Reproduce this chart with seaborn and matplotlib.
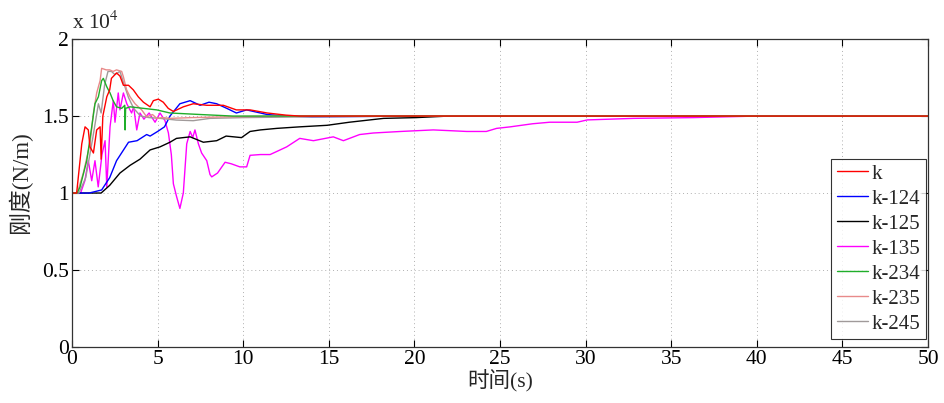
import matplotlib
matplotlib.use("Agg")
import matplotlib.pyplot as plt
import seaborn as sns
import pandas as pd
from matplotlib.lines import Line2D

# ---- data (stiffness in units of 1e4 N/m) ----
series_names = ["k", "k-124", "k-125", "k-135", "k-234", "k-235", "k-245"]

t_k = [0, 0.27, 0.57, 0.76, 0.95, 1.05, 1.25, 1.44, 1.64, 1.7, 1.8, 2.03, 2.2, 2.3, 2.6, 2.8, 3.0, 3.3,
       3.58, 3.87, 4.17, 4.56, 4.75, 5.04, 5.33, 5.62, 5.92, 6.5, 7.08, 7.87, 8.84, 9.6, 10.4, 11.4,
       12.5, 13.3, 15, 20, 30, 40, 50]
v_k = [1.0, 1.0, 1.32, 1.43, 1.41, 1.30, 1.26, 1.41, 1.43, 1.22, 1.50, 1.625, 1.67, 1.745, 1.78, 1.76,
       1.70, 1.70, 1.67, 1.625, 1.59, 1.56, 1.60, 1.61, 1.59, 1.55, 1.53, 1.56, 1.58, 1.57, 1.57, 1.54,
       1.54, 1.52, 1.506, 1.50, 1.50, 1.50, 1.50, 1.50, 1.50]

t_124 = [0, 1.0, 1.73, 2.2, 2.6, 3.3, 3.8, 4.36, 4.56, 5.0, 5.4, 5.72, 6.3, 6.9, 7.48, 8.0, 8.45, 9.04,
         9.6, 10.2, 11.0, 11.4, 12.5, 14, 20, 30, 40, 50]
v_124 = [1.0, 1.0, 1.02, 1.1, 1.21, 1.33, 1.34, 1.38, 1.37, 1.40, 1.43, 1.50, 1.58, 1.60, 1.57, 1.59,
         1.58, 1.55, 1.52, 1.54, 1.52, 1.51, 1.50, 1.495, 1.50, 1.50, 1.50, 1.50]

t_125 = [0, 1.0, 1.7, 2.2, 2.8, 3.39, 3.97, 4.56, 5.14, 5.72, 6.1, 6.9, 7.67, 8.45, 9.0, 9.9, 10.4,
         11.0, 11.96, 13.3, 14.9, 16.2, 18.2, 20.1, 22, 30, 40, 50]
v_125 = [1.0, 1.0, 1.0, 1.05, 1.13, 1.18, 1.22, 1.28, 1.30, 1.33, 1.355, 1.365, 1.33, 1.34, 1.37, 1.36,
         1.40, 1.41, 1.42, 1.43, 1.44, 1.46, 1.485, 1.49, 1.50, 1.50, 1.50, 1.50]

t_135 = [0, 0.5, 0.75, 0.95, 1.15, 1.34, 1.53, 1.75, 1.93, 2.03, 2.22, 2.41, 2.51, 2.7, 2.8, 3.0, 3.2,
         3.48, 3.6, 3.78, 3.97, 4.2, 4.5, 4.85, 5.14, 5.43, 5.63, 5.8, 5.92, 6.1, 6.3, 6.5, 6.7, 6.9,
         7.05, 7.18, 7.38, 7.57, 7.87, 8.06, 8.16, 8.5, 8.94, 9.3, 9.8, 10.2, 10.4, 11.0, 11.57, 11.96,
         12.54, 13.3, 14.1, 15.26, 15.85, 16.8, 17.6, 19.2, 21.1, 22.1, 23.05, 24.2, 24.8, 25.6, 26.9,
         27.9, 29.5, 30.1, 32.8, 36.3, 40, 50]
v_135 = [1.0, 1.0, 1.08, 1.21, 1.08, 1.21, 1.04, 1.25, 1.34, 1.04, 1.43, 1.60, 1.46, 1.65, 1.54, 1.65,
         1.58, 1.52, 1.56, 1.41, 1.52, 1.48, 1.52, 1.46, 1.52, 1.47, 1.39, 1.25, 1.06, 0.98, 0.90, 1.0,
         1.32, 1.40, 1.36, 1.41, 1.32, 1.26, 1.21, 1.12, 1.105, 1.13, 1.20, 1.19, 1.17, 1.17, 1.245,
         1.25, 1.25, 1.27, 1.30, 1.355, 1.34, 1.365, 1.34, 1.38, 1.39, 1.40, 1.41, 1.405, 1.40, 1.40,
         1.42, 1.43, 1.45, 1.46, 1.46, 1.475, 1.485, 1.49, 1.50, 1.50]

t_234 = [0, 0.3, 0.47, 0.86, 1.15, 1.34, 1.54, 1.73, 1.83, 2.03, 2.22, 2.4, 2.6, 2.9, 3.08, 3.1, 3.13,
         3.39, 4.17, 4.95, 5.72, 7.5, 9.4, 12, 20, 30, 40, 50]
v_234 = [1.0, 1.0, 1.04, 1.21, 1.43, 1.58, 1.625, 1.73, 1.745, 1.69, 1.65, 1.60, 1.56, 1.55, 1.57, 1.41,
         1.55, 1.56, 1.55, 1.54, 1.52, 1.51, 1.50, 1.50, 1.50, 1.50, 1.50, 1.50]

t_235 = [0, 0.3, 0.66, 1.05, 1.25, 1.44, 1.64, 1.73, 2.0, 2.2, 2.4, 2.6, 2.9, 3.0, 3.19, 3.39, 3.68,
         4.07, 4.36, 4.7, 4.95, 5.3, 5.72, 7, 9, 12, 20, 30, 40, 50]
v_235 = [1.0, 1.0, 1.13, 1.32, 1.52, 1.65, 1.73, 1.81, 1.80, 1.80, 1.79, 1.80, 1.79, 1.755, 1.67, 1.625,
         1.58, 1.54, 1.495, 1.51, 1.485, 1.49, 1.485, 1.49, 1.495, 1.50, 1.50, 1.50, 1.50, 1.50]

t_245 = [0, 0.4, 0.8, 1.2, 1.54, 1.7, 1.9, 2.1, 2.3, 2.5, 2.8, 3.0, 3.3, 3.6, 4.0, 4.5, 5.14, 6.1, 7.08,
         8.06, 10, 14, 20, 30, 40, 50]
v_245 = [1.0, 1.0, 1.10, 1.35, 1.58, 1.52, 1.70, 1.79, 1.79, 1.77, 1.79, 1.72, 1.62, 1.55, 1.50, 1.49,
         1.485, 1.474, 1.47, 1.485, 1.49, 1.495, 1.50, 1.50, 1.50, 1.50]

series_t = [t_k, t_124, t_125, t_135, t_234, t_235, t_245]
series_v = [v_k, v_124, v_125, v_135, v_234, v_235, v_245]
colors = ["#ff0000", "#0000ff", "#000000", "#ff00ff", "#1fae2a", "#e88a8a", "#a09a9a"]

x_ticks = [0, 5, 10, 15, 20, 25, 30, 35, 40, 45, 50]
y_ticks = [0, 0.5, 1, 1.5, 2]
y_tick_labels = ["0", "0.5", "1", "1.5", "2"]

frames = []
for name, tt, vv in zip(series_names, series_t, series_v):
    assert len(tt) == len(vv), name
    frames.append(pd.DataFrame({"t": tt, "v": vv, "series": name}))
df = pd.concat(frames, ignore_index=True)

# ---- plotting ----
sns.set_theme(style="white")
plt.rcParams["font.family"] = ["Liberation Serif", "Noto Sans CJK SC"]
plt.rcParams["mathtext.fontset"] = "stix"

fig = plt.figure(figsize=(9.44, 4.03), dpi=100)
ax = fig.add_axes([0.0763, 0.139, 0.9068, 0.764])

draw_order = ["k-135", "k-125", "k-124", "k-245", "k-235", "k-234", "k"]
pal = dict(zip(series_names, colors))
for name in draw_order:
    sub = df[df["series"] == name]
    sns.lineplot(data=sub, x="t", y="v", color=pal[name], linewidth=1.0, sort=False,
                 estimator=None, ax=ax, legend=False)

ax.set_xlim(0, 50)
ax.set_ylim(0, 2)
ax.set_xticks(x_ticks)
ax.set_xticklabels([str(x) for x in x_ticks])
ax.set_yticks(y_ticks)
ax.set_yticklabels(y_tick_labels)
ax.tick_params(direction="in", length=5, width=0.8, labelsize=15.5, colors="black",
               top=True, right=True, bottom=True, left=True, pad=2)
ax.grid(True, linestyle=(0, (1, 3)), color="#b0b0b0", linewidth=0.7)
for sp in ax.spines.values():
    sp.set_color("#333333")
    sp.set_linewidth(0.9)

ax.set_xlabel("时间(s)", fontsize=15.5, labelpad=1)
ax.set_ylabel("刚度(N/m)", fontsize=16.5)
ax.yaxis.set_label_coords(-0.047, 0.535)
ax.text(0.0, 1.018, r"x 10$^4$", transform=ax.transAxes, fontsize=15.5, ha="left", va="bottom")

handles = [Line2D([0], [0], color=c, lw=1.0) for c in colors]
leg = ax.legend(handles, series_names, loc="lower right", bbox_to_anchor=(1.0, 0.02),
                fontsize=15, frameon=True, fancybox=False, handlelength=1.5,
                handletextpad=0.2, labelspacing=0.26, borderpad=0.25, borderaxespad=0.1)
leg.get_frame().set_edgecolor("black")
leg.get_frame().set_linewidth(0.8)

fig.savefig("out.png", dpi=100, facecolor="white")
